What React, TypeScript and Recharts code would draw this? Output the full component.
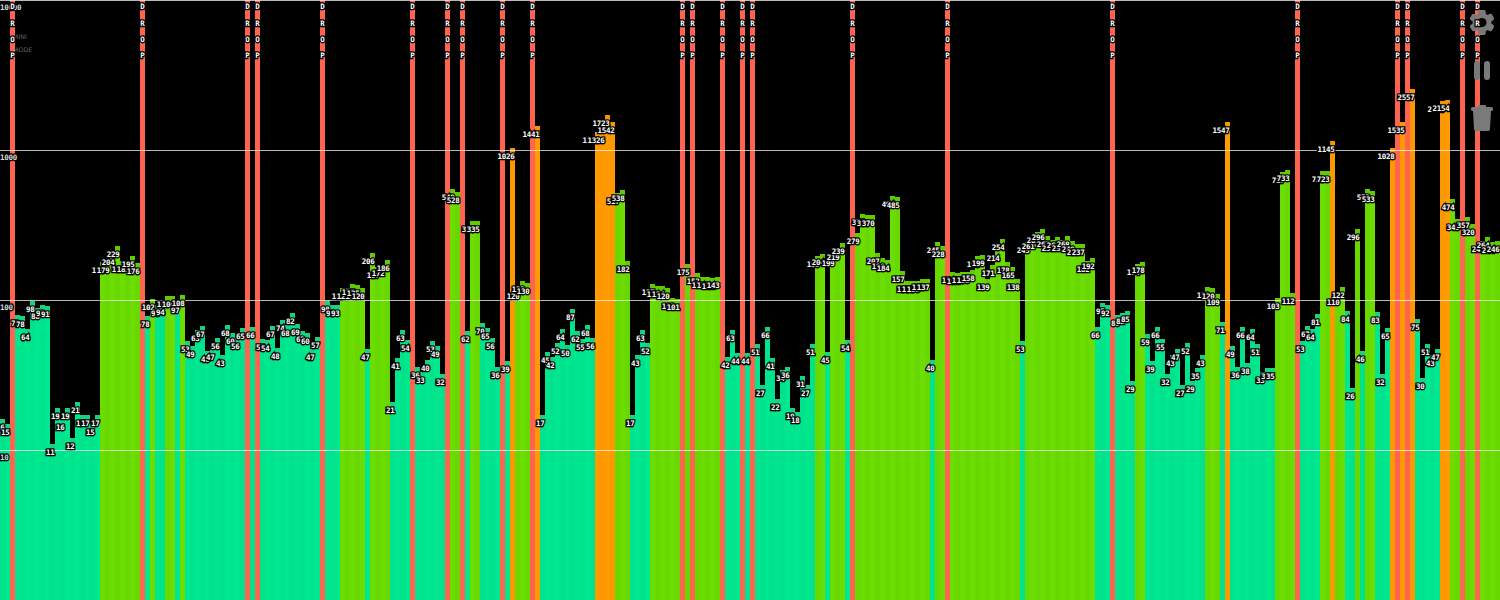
import React from 'react';
import { BarChart, Bar, XAxis, YAxis, ReferenceLine, LabelList } from 'recharts';

const DROP_MAX = 10000;
// One value per 5px column; null marks a DROP column.
const values: (number | null)[] = [
  16, 15, null, 79, 78, 64, 98, 88, 93, 91,
  11, 19, 16, 19, 12, 21, 17, 17, 15, 17,
  178, 179, 204, 229, 181, 183, 195, 176, null, 78,
  102, 93, 94, 106, 106, 97, 108, 53, 49, 63,
  67, 46, 47, 56, 43, 68, 60, 56, 65, null,
  66, null, 55, 54, 67, 48, 74, 68, 82, 69,
  62, 60, 47, 57, null, 98, 93, 93, 120, 121,
  127, 125, 120, 47, 206, 167, 172, 186, 21, 41,
  63, 54, null, 36, 33, 40, 53, 49, 32, null,
  549, 528, null, 62, 335, 335, 70, 65, 56, 36,
  null, 39, 1026, 120, 133, 130, null, 1441, 17, 45,
  42, 52, 64, 50, 87, 62, 55, 68, 56, 1318,
  1326, 1723, 1542, 517, 538, 182, 17, 43, 63, 52,
  127, 124, 124, 120, 103, 101, null, 175, null, 152,
  143, 143, 141, 143, null, 42, 63, 44, null, 44,
  null, 51, 27, 66, 41, 22, 34, 36, 19, 18,
  31, 27, 51, 195, 204, 45, 199, 219, 239, 54,
  null, 279, 375, 370, 370, 207, 190, 184, 494, 485,
  157, 133, 133, 133, 137, 137, 40, 245, 228, null,
  154, 151, 153, 153, 158, 196, 199, 139, 171, 214,
  254, 178, 165, 138, 53, 245, 261, 285, 296, 267,
  251, 262, 251, 269, 249, 237, 237, 182, 192, 66,
  95, 92, null, 80, 82, 85, 29, 174, 178, 59,
  39, 66, 55, 32, 43, 47, 27, 52, 29, 35,
  43, 122, 120, 109, 71, 1547, 49, 36, 66, 38,
  64, 51, 33, 35, 35, 103, 717, 733, 112, null,
  53, 67, 64, 81, 723, 723, 1145, 110, 122, 84,
  26, 296, 46, 553, 533, 83, 32, 65, 1028, null,
  1535, null, 2557, 75, 30, 51, 43, 47, 2120, 2154,
  474, 345, null, 357, 320, null, 247, 264, 244, 246,
];
const gridValues = [10000, 1000, 100, 10];
const dropLetters = ['D', 'R', 'O', 'P'];
const dropLetterY = [6, 23, 39, 55];

const rows = values.map((v, i) => ({ col: i, drop: v === null, value: v === null ? DROP_MAX : v, label: v === null ? '' : String(v) }));

const palette = (v: number, drop: boolean, i: number) => {
  if (drop) return { body: '#ff6450', cap: '#ff6450' };
  const odd = i % 2 === 1;
  if (v >= 1000) return { body: odd ? '#ff9a00' : '#fd9800', cap: '#f69500' };
  if (v >= 100) return { body: odd ? '#68d900' : '#6cdd00', cap: '#5fcb00' };
  return { body: odd ? '#00e88f' : '#00e28b', cap: '#16d37f' };
};

const ColumnShape = (p: any) => {
  const { x, y, width, height, payload } = p;
  const top = Math.round(y);
  const h = Math.round(y + height) - top;
  const c = palette(payload.value, payload.drop, payload.col);
  return (
    <g>
      <rect x={x} y={top} width={width} height={h} fill={c.body} />
      {!payload.drop && <rect x={x} y={top} width={width} height={4} fill={c.cap} />}
    </g>
  );
};

const labelFont = "'DejaVu Sans Mono'";
const textStyle: React.CSSProperties = { paintOrder: 'stroke', letterSpacing: '-0.25px' };

const ValueLabel = (p: any) => {
  const { x, y, value } = p;
  if (!value) return null;
  return (
    <text x={x + 4.5} y={y + 11} textAnchor="end" fontFamily={labelFont} fontWeight={700} fontSize={7.5}
      fill="#fff" stroke="#000" strokeWidth={2.6} strokeLinejoin="miter" style={textStyle}>{value}</text>
  );
};

const DropLabel = (p: any) => {
  const { x, index } = p;
  if (!rows[index].drop) return null;
  return (
    <g>
      {dropLetters.map((l, k) => (
        <text key={l} x={x + 2.5} y={dropLetterY[k] + 3} textAnchor="middle" fontFamily={labelFont} fontWeight={700} fontSize={7.5}
          fill="#fff" stroke="#000" strokeWidth={2.6} strokeLinejoin="miter" style={textStyle}>{l}</text>
      ))}
    </g>
  );
};

const GridLine = (p: any) => (
  <line x1={0} x2={1500} y1={Math.round(p.y1) + 0.5} y2={Math.round(p.y1) + 0.5} stroke="#ffffff" strokeOpacity={0.72} strokeWidth={1} />
);

const gearTeeth = [0, 60, 120, 180, 240, 300];

const Overlay = () => (
  <g>
    <text x={13} y={38.5} fontFamily="'DejaVu Sans'" fontSize={6.3} fill="#8a8a8a" fillOpacity={0.75}>MINI</text>
    <text x={13} y={52} fontFamily="'DejaVu Sans'" fontSize={6.3} fill="#8a8a8a" fillOpacity={0.75}>MODE</text>
    <g fill="#7a7a7a">
      {gearTeeth.map((a) => (
        <rect key={a} x={1478.5} y={10} width={7} height={25} rx={2} transform={`rotate(${a} 1482 22.5)`} />
      ))}
      <circle cx={1482} cy={22.5} r={9.5} />
      <circle cx={1482} cy={22.5} r={4.5} fill="#000" />
      <rect x={1474} y={61} width={6} height={19} rx={3} />
      <rect x={1484} y={61} width={6} height={19} rx={3} />
      <rect x={1471} y={107} width={22} height={4} rx={1.5} />
      <rect x={1478} y={105} width={8} height={3} rx={1} />
      <path d="M1473 111h18l-1 18q0 2-2 2h-12q-2 0-2-2z" />
    </g>
  </g>
);

const OverlayShape = (p: any) => (p.index === 0 ? <Overlay /> : null);

const GridText = (p: any) => {
  const { viewBox, value } = p;
  return (
    <text x={0} y={viewBox.y + 10} fontFamily={labelFont} fontWeight={700} fontSize={7.5}
      fill="#d8d8d8" stroke="#000" strokeWidth={2.6} strokeLinejoin="miter" style={textStyle}>{value}</text>
  );
};

export default function App() {
  return (
    <div style={{ position: 'fixed', left: 0, top: 0, width: 1500, height: 600, background: '#000', overflow: 'hidden' }}>
      <BarChart width={1500} height={600} data={rows} margin={{ top: 0, right: 0, bottom: 0, left: 0 }} barCategoryGap={0} barGap={0}>
        <XAxis dataKey="col" type="category" hide xAxisId="a" />
        <XAxis dataKey="col" type="category" hide xAxisId="b" />
        <YAxis hide scale="log" domain={[1, 10000]} allowDataOverflow />
        <Bar dataKey="value" xAxisId="a" isAnimationActive={false} shape={ColumnShape} />
        {gridValues.map((g) => (
          <ReferenceLine key={g} y={g} xAxisId="a" shape={GridLine} ifOverflow="visible" label={<GridText value={String(g)} />} />
        ))}
        <Bar dataKey="value" xAxisId="b" isAnimationActive={false} shape={OverlayShape}>
          <LabelList dataKey="label" content={ValueLabel} />
          <LabelList dataKey="label" content={DropLabel} />
        </Bar>
      </BarChart>
    </div>
  );
}
